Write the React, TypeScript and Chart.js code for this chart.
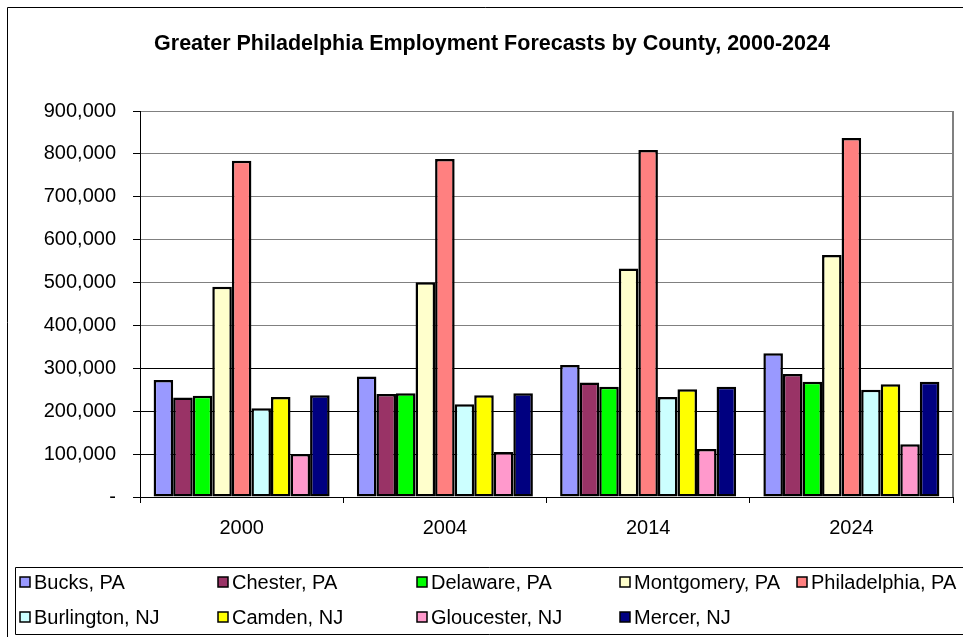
import React, { useEffect, useRef } from "react";
import { Chart, registerables } from "chart.js";

Chart.register(...registerables);

const TITLE = "Greater Philadelphia Employment Forecasts by County, 2000-2024";
const categories = ["2000", "2004", "2014", "2024"];

const seriesNames = [
  "Bucks, PA",
  "Chester, PA",
  "Delaware, PA",
  "Montgomery, PA",
  "Philadelphia, PA",
  "Burlington, NJ",
  "Camden, NJ",
  "Gloucester, NJ",
  "Mercer, NJ",
];

const bucks = [273000, 281000, 308000, 335000];
const chester = [232000, 240000, 267000, 287000];
const delaware = [236000, 242000, 257000, 269000];
const montgomery = [490000, 501000, 533000, 564000];
const philadelphia = [784000, 788000, 809000, 837000];
const burlington = [207000, 216000, 233000, 250000];
const camden = [233000, 237000, 251000, 263000];
const gloucester = [100000, 105000, 112000, 123000];
const mercer = [237000, 242000, 257000, 269000];

const seriesValues = [bucks, chester, delaware, montgomery, philadelphia, burlington, camden, gloucester, mercer];

const colors = [
  "#9999FF",
  "#993366",
  "#00FF00",
  "#FFFFCC",
  "#FF8080",
  "#CCFFFF",
  "#FFFF00",
  "#FF99CC",
  "#000080",
];

const yMax = 900000;
const yStep = 100000;

const FONT = '"Liberation Sans", Arial, sans-serif';

// legend layout (positions only)
const legendCols = [20, 218, 417, 620, 797];
const legendRows = [582, 617];

const decorPlugin = {
  id: "decor",
  afterDraw(chart: any) {
    const ctx = chart.ctx;
    const area = chart.chartArea;
    ctx.save();
    // outer border
    ctx.strokeStyle = "#000";
    ctx.lineWidth = 1;
    ctx.beginPath();
    ctx.moveTo(7.5, 640);
    ctx.lineTo(7.5, 7.5);
    ctx.lineTo(970, 7.5);
    ctx.stroke();
    // plot right border
    ctx.strokeStyle = "#808080";
    ctx.lineWidth = 2;
    ctx.beginPath();
    ctx.moveTo(area.right, area.top);
    ctx.lineTo(area.right, area.bottom);
    ctx.stroke();
    // title
    ctx.fillStyle = "#000";
    ctx.font = `bold 21.5px ${FONT}`;
    ctx.textAlign = "center";
    ctx.textBaseline = "middle";
    ctx.fillText(TITLE, 492, 44);
    // legend box
    ctx.strokeStyle = "#000";
    ctx.lineWidth = 1;
    ctx.beginPath();
    ctx.moveTo(970, 567.5);
    ctx.lineTo(15.5, 567.5);
    ctx.lineTo(15.5, 634.5);
    ctx.lineTo(970, 634.5);
    ctx.stroke();
    // legend entries
    ctx.font = `20px ${FONT}`;
    ctx.textAlign = "left";
    ctx.textBaseline = "middle";
    seriesNames.forEach((name, i) => {
      const row = i < 5 ? 0 : 1;
      const col = i < 5 ? i : i - 5;
      const x = legendCols[col];
      const y = legendRows[row];
      ctx.fillStyle = colors[i];
      ctx.fillRect(x, y - 5, 10, 10);
      ctx.strokeStyle = "#000";
      ctx.lineWidth = 1.5;
      ctx.strokeRect(x, y - 5, 10, 10);
      ctx.fillStyle = "#000";
      ctx.fillText(name, x + 14, y + 1);
    });
    ctx.restore();
  },
};

export default function App() {
  const ref = useRef<HTMLCanvasElement>(null);

  useEffect(() => {
    document.body.style.margin = "0";
    document.body.style.overflow = "hidden";
    const canvas = ref.current;
    if (!canvas) return;
    const chart = new Chart(canvas, {
      type: "bar",
      data: {
        labels: categories,
        datasets: seriesNames.map((name, i) => ({
          label: name,
          data: seriesValues[i],
          backgroundColor: colors[i],
          borderColor: "#000",
          borderWidth: 2.5,
          borderSkipped: false,
          barPercentage: 1,
          categoryPercentage: 0.866,
        })),
      },
      options: {
        responsive: false,
        animation: false,
        devicePixelRatio: 1,
        layout: { padding: { left: 0, right: 10, top: 111, bottom: 100 } },
        plugins: {
          legend: { display: false },
          title: { display: false },
          tooltip: { enabled: false },
        },
        scales: {
          x: {
            grid: {
              display: true,
              drawOnChartArea: false,
              drawTicks: true,
              tickLength: 6,
              tickColor: "#000",
              offset: true,
            },
            border: { color: "#000", width: 1 },
            ticks: { color: "#000", font: { family: FONT, size: 20 }, padding: 13 },
            afterFit: (s: any) => {
              s.height = 40;
            },
          },
          y: {
            min: 0,
            max: yMax,
            ticks: {
              stepSize: yStep,
              color: "#000",
              font: { family: FONT, size: 20 },
              padding: 17,
              callback: (v: any) => (Number(v) === 0 ? "-" : Number(v).toLocaleString("en-US")),
            },
            grid: {
              color: (c: any) => (c.tick && c.tick.value > 300000 ? "#808080" : "#000"),
              tickColor: "#000",
              tickLength: 7,
              lineWidth: 1,
            },
            border: { color: "#000", width: 1 },
            afterFit: (s: any) => {
              s.width = 140;
            },
          },
        },
      },
      plugins: [decorPlugin],
    });
    return () => chart.destroy();
  }, []);

  return (
    <div style={{ width: 963, height: 637, background: "#fff" }}>
      <canvas ref={ref} width={963} height={637} style={{ display: "block", width: 963, height: 637 }} />
    </div>
  );
}
